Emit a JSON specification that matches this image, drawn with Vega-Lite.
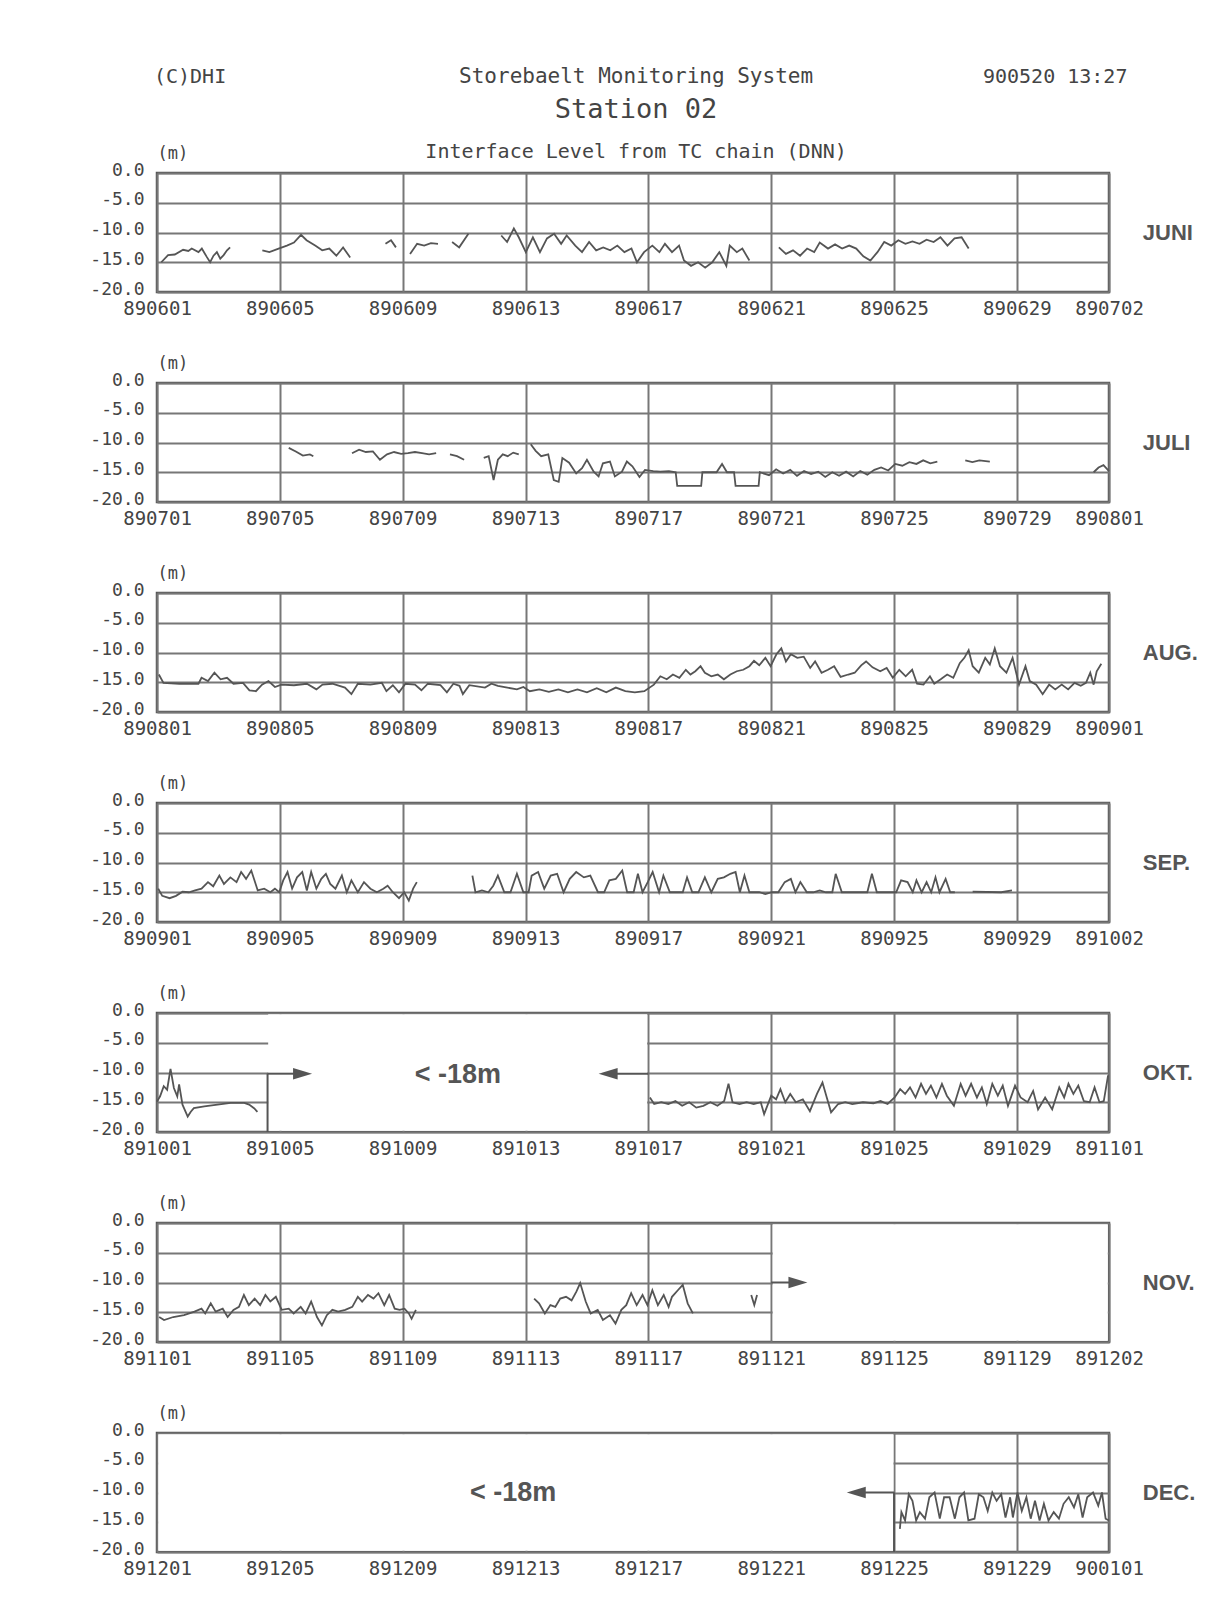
{
"$schema": "https://vega.github.io/schema/vega-lite/v6.json",
"background": "white",
"padding": {"left": 88, "top": 64, "right": 5, "bottom": 5},
"autosize": {"type": "pad"},
"spacing": 91,
"bounds": "flush",
"config": {
  "view": {"stroke": "#555", "strokeWidth": 2.5},
  "axis": {"labelFont": "DejaVu Sans Mono", "labelColor": "#444", "ticks": false, "tickSize": 0, "domain": false, "grid": true, "gridColor": "#777", "gridWidth": 2, "gridOpacity": 1},
  "axisX": {"labelFontSize": 19, "labelPadding": 7},
  "axisY": {"labelFontSize": 18, "labelPadding": 13, "labelOffset": -3, "tickCount": 10, "titleFont": "DejaVu Sans Mono", "titleFontSize": 17, "titleFontWeight": "normal", "titleColor": "#444"},
  "line": {"color": "#555", "strokeWidth": 1.8},
  "rule": {"color": "#555", "strokeWidth": 2},
  "text": {"color": "#444"}
},
"datasets": {
"jun": [
{"d":0.14,"v":-15.0,"s":1},{"d":0.36,"v":-13.8,"s":1},{"d":0.58,"v":-13.7,"s":1},{"d":0.85,"v":-12.9,"s":1},{"d":1.02,"v":-13.1,"s":1},{"d":1.13,"v":-12.7,"s":1},{"d":1.35,"v":-13.3,"s":1},{"d":1.46,"v":-12.7,"s":1},{"d":1.62,"v":-14.1,"s":1},{"d":1.73,"v":-15.0,"s":1},{"d":1.84,"v":-13.9,"s":1},{"d":1.95,"v":-13.3,"s":1},{"d":2.06,"v":-14.4,"s":1},{"d":2.17,"v":-13.8,"s":1},{"d":2.28,"v":-13.0,"s":1},{"d":2.38,"v":-12.5,"s":1},
{"d":3.43,"v":-13.0,"s":2},{"d":3.66,"v":-13.3,"s":2},{"d":3.96,"v":-12.7,"s":2},{"d":4.23,"v":-12.2,"s":2},{"d":4.46,"v":-11.7,"s":2},{"d":4.69,"v":-10.4,"s":2},{"d":4.87,"v":-11.3,"s":2},{"d":5.15,"v":-12.2,"s":2},{"d":5.38,"v":-13.0,"s":2},{"d":5.61,"v":-12.7,"s":2},{"d":5.84,"v":-13.9,"s":2},{"d":6.06,"v":-12.5,"s":2},{"d":6.29,"v":-14.2,"s":2},
{"d":7.44,"v":-11.9,"s":3},{"d":7.62,"v":-11.3,"s":3},{"d":7.78,"v":-12.5,"s":3},
{"d":8.24,"v":-13.6,"s":4},{"d":8.47,"v":-11.9,"s":4},{"d":8.7,"v":-12.2,"s":4},{"d":8.92,"v":-11.8,"s":4},{"d":9.15,"v":-11.9,"s":4},
{"d":9.61,"v":-11.6,"s":5},{"d":9.84,"v":-12.5,"s":5},{"d":10.14,"v":-10.2,"s":5},
{"d":11.21,"v":-10.5,"s":6},{"d":11.4,"v":-11.6,"s":6},{"d":11.62,"v":-9.3,"s":6},{"d":11.78,"v":-10.8,"s":6},{"d":12.01,"v":-13.3,"s":6},{"d":12.24,"v":-10.8,"s":6},{"d":12.47,"v":-13.3,"s":6},{"d":12.7,"v":-11.0,"s":6},{"d":12.93,"v":-10.2,"s":6},{"d":13.16,"v":-11.9,"s":6},{"d":13.34,"v":-10.5,"s":6},{"d":13.62,"v":-12.2,"s":6},{"d":13.84,"v":-13.3,"s":6},{"d":14.07,"v":-11.6,"s":6},{"d":14.3,"v":-13.0,"s":6},{"d":14.53,"v":-12.5,"s":6},{"d":14.76,"v":-13.0,"s":6},{"d":14.99,"v":-12.2,"s":6},{"d":15.22,"v":-13.3,"s":6},{"d":15.45,"v":-12.7,"s":6},{"d":15.63,"v":-15.0,"s":6},{"d":15.86,"v":-13.3,"s":6},{"d":16.13,"v":-12.2,"s":6},{"d":16.36,"v":-13.3,"s":6},{"d":16.54,"v":-11.9,"s":6},{"d":16.77,"v":-13.3,"s":6},{"d":17.0,"v":-12.2,"s":6},{"d":17.16,"v":-14.7,"s":6},{"d":17.39,"v":-15.6,"s":6},{"d":17.62,"v":-15.0,"s":6},{"d":17.85,"v":-15.9,"s":6},{"d":18.08,"v":-15.0,"s":6},{"d":18.31,"v":-13.3,"s":6},{"d":18.54,"v":-15.6,"s":6},{"d":18.65,"v":-12.2,"s":6},{"d":18.88,"v":-13.3,"s":6},{"d":19.06,"v":-12.7,"s":6},{"d":19.29,"v":-14.7,"s":6},
{"d":20.25,"v":-12.5,"s":7},{"d":20.48,"v":-13.6,"s":7},{"d":20.71,"v":-13.0,"s":7},{"d":20.94,"v":-13.9,"s":7},{"d":21.17,"v":-12.7,"s":7},{"d":21.4,"v":-13.3,"s":7},{"d":21.58,"v":-11.7,"s":7},{"d":21.85,"v":-12.7,"s":7},{"d":22.08,"v":-12.0,"s":7},{"d":22.31,"v":-12.7,"s":7},{"d":22.54,"v":-12.2,"s":7},{"d":22.77,"v":-12.7,"s":7},{"d":23.0,"v":-14.0,"s":7},{"d":23.23,"v":-14.7,"s":7},{"d":23.46,"v":-13.3,"s":7},{"d":23.68,"v":-11.6,"s":7},{"d":23.91,"v":-12.2,"s":7},{"d":24.14,"v":-11.3,"s":7},{"d":24.37,"v":-11.9,"s":7},{"d":24.6,"v":-11.5,"s":7},{"d":24.83,"v":-11.9,"s":7},{"d":25.06,"v":-11.2,"s":7},{"d":25.29,"v":-11.6,"s":7},{"d":25.51,"v":-10.8,"s":7},{"d":25.74,"v":-12.2,"s":7},{"d":25.97,"v":-11.0,"s":7},{"d":26.2,"v":-10.8,"s":7},{"d":26.43,"v":-12.7,"s":7}
],
"jul": [
{"d":4.29,"v":-10.9,"s":1},{"d":4.52,"v":-11.5,"s":1},{"d":4.75,"v":-12.2,"s":1},{"d":4.98,"v":-12.0,"s":1},{"d":5.09,"v":-12.3,"s":1},
{"d":6.35,"v":-11.8,"s":2},{"d":6.58,"v":-11.2,"s":2},{"d":6.8,"v":-11.6,"s":2},{"d":7.03,"v":-11.5,"s":2},{"d":7.26,"v":-12.9,"s":2},{"d":7.49,"v":-12.0,"s":2},{"d":7.72,"v":-11.6,"s":2},{"d":7.95,"v":-11.9,"s":2},{"d":8.17,"v":-11.8,"s":2},{"d":8.4,"v":-11.6,"s":2},{"d":8.63,"v":-11.8,"s":2},{"d":8.86,"v":-12.0,"s":2},{"d":9.09,"v":-11.8,"s":2},
{"d":9.54,"v":-12.0,"s":3},{"d":9.77,"v":-12.3,"s":3},{"d":10.0,"v":-12.9,"s":3},
{"d":10.64,"v":-12.6,"s":4},{"d":10.8,"v":-12.3,"s":4},{"d":10.96,"v":-16.3,"s":4},{"d":11.1,"v":-12.9,"s":4},{"d":11.26,"v":-12.0,"s":4},{"d":11.42,"v":-12.3,"s":4},{"d":11.6,"v":-11.7,"s":4},{"d":11.78,"v":-12.0,"s":4},
{"d":12.17,"v":-10.3,"s":5},{"d":12.33,"v":-11.4,"s":5},{"d":12.51,"v":-12.3,"s":5},{"d":12.74,"v":-12.0,"s":5},{"d":12.92,"v":-16.3,"s":5},{"d":13.08,"v":-16.6,"s":5},{"d":13.2,"v":-12.6,"s":5},{"d":13.42,"v":-13.4,"s":5},{"d":13.65,"v":-15.2,"s":5},{"d":13.84,"v":-14.3,"s":5},{"d":14.0,"v":-12.9,"s":5},{"d":14.22,"v":-14.9,"s":5},{"d":14.38,"v":-15.7,"s":5},{"d":14.52,"v":-13.5,"s":5},{"d":14.75,"v":-13.2,"s":5},{"d":14.91,"v":-15.7,"s":5},{"d":15.14,"v":-14.9,"s":5},{"d":15.3,"v":-13.2,"s":5},{"d":15.48,"v":-14.0,"s":5},{"d":15.71,"v":-15.8,"s":5},{"d":15.89,"v":-14.6,"s":5},{"d":16.16,"v":-14.8,"s":5},{"d":16.39,"v":-14.9,"s":5},{"d":16.67,"v":-14.8,"s":5},{"d":16.89,"v":-15.0,"s":5},{"d":16.94,"v":-17.3,"s":5},{"d":17.72,"v":-17.3,"s":5},{"d":17.76,"v":-15.0,"s":5},{"d":18.22,"v":-15.0,"s":5},{"d":18.4,"v":-13.6,"s":5},{"d":18.56,"v":-15.0,"s":5},{"d":18.79,"v":-15.0,"s":5},{"d":18.84,"v":-17.3,"s":5},{"d":19.59,"v":-17.3,"s":5},{"d":19.63,"v":-15.0,"s":5},{"d":19.93,"v":-15.5,"s":5},{"d":20.16,"v":-14.5,"s":5},{"d":20.39,"v":-15.2,"s":5},{"d":20.62,"v":-14.6,"s":5},{"d":20.84,"v":-15.6,"s":5},{"d":21.07,"v":-14.8,"s":5},{"d":21.3,"v":-15.3,"s":5},{"d":21.53,"v":-14.9,"s":5},{"d":21.76,"v":-15.8,"s":5},{"d":21.99,"v":-15.0,"s":5},{"d":22.21,"v":-15.6,"s":5},{"d":22.44,"v":-14.9,"s":5},{"d":22.67,"v":-15.7,"s":5},{"d":22.9,"v":-14.8,"s":5},{"d":23.13,"v":-15.4,"s":5},{"d":23.36,"v":-14.6,"s":5},{"d":23.58,"v":-14.2,"s":5},{"d":23.81,"v":-14.7,"s":5},{"d":24.04,"v":-13.6,"s":5},{"d":24.27,"v":-13.9,"s":5},{"d":24.5,"v":-13.3,"s":5},{"d":24.73,"v":-13.6,"s":5},{"d":24.95,"v":-13.0,"s":5},{"d":25.18,"v":-13.5,"s":5},{"d":25.41,"v":-13.2,"s":5},
{"d":26.32,"v":-13.0,"s":6},{"d":26.55,"v":-13.3,"s":6},{"d":26.78,"v":-13.0,"s":6},{"d":27.12,"v":-13.2,"s":6},
{"d":30.5,"v":-15.0,"s":7},{"d":30.66,"v":-14.2,"s":7},{"d":30.82,"v":-13.8,"s":7},{"d":31.0,"v":-14.8,"s":7}
],
"aug": [
{"d":0.06,"v":-13.7,"s":1},{"d":0.21,"v":-15.1,"s":1},{"d":0.73,"v":-15.25,"s":1},{"d":1.35,"v":-15.25,"s":1},{"d":1.45,"v":-14.25,"s":1},{"d":1.66,"v":-14.8,"s":1},{"d":1.87,"v":-13.4,"s":1},{"d":2.07,"v":-14.5,"s":1},{"d":2.28,"v":-14.25,"s":1},{"d":2.49,"v":-15.25,"s":1},{"d":2.8,"v":-15.1,"s":1},{"d":3.01,"v":-16.35,"s":1},{"d":3.22,"v":-16.5,"s":1},{"d":3.42,"v":-15.4,"s":1},{"d":3.63,"v":-14.8,"s":1},{"d":3.84,"v":-15.8,"s":1},{"d":4.05,"v":-15.4,"s":1},{"d":4.46,"v":-15.5,"s":1},{"d":4.88,"v":-15.25,"s":1},{"d":5.19,"v":-16.2,"s":1},{"d":5.39,"v":-15.4,"s":1},{"d":5.71,"v":-15.25,"s":1},{"d":6.12,"v":-15.9,"s":1},{"d":6.33,"v":-17.0,"s":1},{"d":6.54,"v":-15.25,"s":1},{"d":6.95,"v":-15.4,"s":1},{"d":7.32,"v":-15.1,"s":1},{"d":7.47,"v":-16.5,"s":1},{"d":7.68,"v":-15.5,"s":1},{"d":7.88,"v":-16.7,"s":1},{"d":8.09,"v":-15.25,"s":1},{"d":8.4,"v":-15.4,"s":1},{"d":8.61,"v":-16.35,"s":1},{"d":8.82,"v":-15.25,"s":1},{"d":9.23,"v":-15.5,"s":1},{"d":9.44,"v":-16.7,"s":1},{"d":9.65,"v":-15.25,"s":1},{"d":9.85,"v":-15.6,"s":1},{"d":9.96,"v":-17.0,"s":1},{"d":10.17,"v":-15.5,"s":1},{"d":10.68,"v":-15.9,"s":1},{"d":10.89,"v":-15.25,"s":1},{"d":11.1,"v":-15.6,"s":1},{"d":11.41,"v":-15.9,"s":1},{"d":11.72,"v":-16.2,"s":1},{"d":11.93,"v":-15.8,"s":1},{"d":12.14,"v":-16.5,"s":1},{"d":12.45,"v":-16.2,"s":1},{"d":12.76,"v":-16.6,"s":1},{"d":13.07,"v":-16.2,"s":1},{"d":13.38,"v":-16.7,"s":1},{"d":13.69,"v":-16.2,"s":1},{"d":14.0,"v":-16.7,"s":1},{"d":14.32,"v":-16.0,"s":1},{"d":14.63,"v":-16.7,"s":1},{"d":14.94,"v":-15.9,"s":1},{"d":15.25,"v":-16.5,"s":1},{"d":15.56,"v":-16.7,"s":1},{"d":15.87,"v":-16.5,"s":1},{"d":16.18,"v":-15.4,"s":1},{"d":16.39,"v":-14.0,"s":1},{"d":16.6,"v":-14.5,"s":1},{"d":16.8,"v":-13.7,"s":1},{"d":17.01,"v":-14.25,"s":1},{"d":17.22,"v":-12.9,"s":1},{"d":17.37,"v":-13.7,"s":1},{"d":17.53,"v":-13.15,"s":1},{"d":17.7,"v":-12.3,"s":1},{"d":17.84,"v":-13.4,"s":1},{"d":18.05,"v":-14.0,"s":1},{"d":18.26,"v":-13.7,"s":1},{"d":18.46,"v":-14.5,"s":1},{"d":18.67,"v":-13.7,"s":1},{"d":18.88,"v":-13.15,"s":1},{"d":19.09,"v":-12.9,"s":1},{"d":19.29,"v":-12.3,"s":1},{"d":19.44,"v":-11.4,"s":1},{"d":19.61,"v":-12.15,"s":1},{"d":19.81,"v":-10.9,"s":1},{"d":19.98,"v":-12.3,"s":1},{"d":20.17,"v":-10.3,"s":1},{"d":20.33,"v":-9.3,"s":1},{"d":20.48,"v":-11.5,"s":1},{"d":20.64,"v":-10.3,"s":1},{"d":20.85,"v":-10.9,"s":1},{"d":21.06,"v":-10.7,"s":1},{"d":21.27,"v":-12.6,"s":1},{"d":21.43,"v":-11.5,"s":1},{"d":21.64,"v":-13.4,"s":1},{"d":21.85,"v":-12.9,"s":1},{"d":22.05,"v":-12.3,"s":1},{"d":22.26,"v":-14.1,"s":1},{"d":22.51,"v":-13.7,"s":1},{"d":22.72,"v":-13.4,"s":1},{"d":22.93,"v":-12.15,"s":1},{"d":23.09,"v":-11.5,"s":1},{"d":23.3,"v":-12.5,"s":1},{"d":23.55,"v":-13.15,"s":1},{"d":23.76,"v":-12.6,"s":1},{"d":23.96,"v":-14.25,"s":1},{"d":24.17,"v":-12.9,"s":1},{"d":24.38,"v":-14.0,"s":1},{"d":24.59,"v":-12.9,"s":1},{"d":24.75,"v":-15.25,"s":1},{"d":24.96,"v":-15.4,"s":1},{"d":25.17,"v":-14.0,"s":1},{"d":25.31,"v":-15.25,"s":1},{"d":25.52,"v":-14.5,"s":1},{"d":25.73,"v":-13.7,"s":1},{"d":25.93,"v":-14.25,"s":1},{"d":26.14,"v":-11.8,"s":1},{"d":26.29,"v":-10.9,"s":1},{"d":26.43,"v":-9.6,"s":1},{"d":26.56,"v":-12.3,"s":1},{"d":26.76,"v":-13.4,"s":1},{"d":26.97,"v":-10.9,"s":1},{"d":27.12,"v":-12.0,"s":1},{"d":27.28,"v":-9.3,"s":1},{"d":27.45,"v":-12.3,"s":1},{"d":27.66,"v":-13.4,"s":1},{"d":27.86,"v":-10.9,"s":1},{"d":28.07,"v":-15.4,"s":1},{"d":28.28,"v":-12.3,"s":1},{"d":28.42,"v":-14.8,"s":1},{"d":28.63,"v":-15.4,"s":1},{"d":28.84,"v":-17.0,"s":1},{"d":29.05,"v":-15.4,"s":1},{"d":29.25,"v":-16.2,"s":1},{"d":29.46,"v":-15.4,"s":1},{"d":29.67,"v":-16.2,"s":1},{"d":29.88,"v":-15.1,"s":1},{"d":30.08,"v":-15.6,"s":1},{"d":30.25,"v":-15.1,"s":1},{"d":30.39,"v":-13.4,"s":1},{"d":30.5,"v":-15.4,"s":1},{"d":30.6,"v":-13.15,"s":1},{"d":30.75,"v":-11.9,"s":1}
],
"sep": [
{"d":0.04,"v":-14.4,"s":1},{"d":0.17,"v":-15.6,"s":1},{"d":0.41,"v":-16.0,"s":1},{"d":0.62,"v":-15.6,"s":1},{"d":0.83,"v":-14.9,"s":1},{"d":1.04,"v":-15.0,"s":1},{"d":1.24,"v":-14.7,"s":1},{"d":1.45,"v":-14.4,"s":1},{"d":1.66,"v":-13.3,"s":1},{"d":1.83,"v":-14.0,"s":1},{"d":2.03,"v":-12.2,"s":1},{"d":2.18,"v":-13.6,"s":1},{"d":2.39,"v":-12.5,"s":1},{"d":2.59,"v":-13.3,"s":1},{"d":2.74,"v":-11.6,"s":1},{"d":2.9,"v":-12.75,"s":1},{"d":3.07,"v":-11.35,"s":1},{"d":3.28,"v":-14.7,"s":1},{"d":3.49,"v":-14.4,"s":1},{"d":3.69,"v":-15.0,"s":1},{"d":3.84,"v":-14.4,"s":1},{"d":3.98,"v":-15.0,"s":1},{"d":4.11,"v":-13.0,"s":1},{"d":4.25,"v":-11.6,"s":1},{"d":4.4,"v":-14.4,"s":1},{"d":4.56,"v":-12.5,"s":1},{"d":4.73,"v":-11.6,"s":1},{"d":4.88,"v":-14.7,"s":1},{"d":5.02,"v":-11.6,"s":1},{"d":5.19,"v":-14.4,"s":1},{"d":5.35,"v":-12.75,"s":1},{"d":5.5,"v":-11.9,"s":1},{"d":5.64,"v":-13.6,"s":1},{"d":5.81,"v":-14.4,"s":1},{"d":6.02,"v":-12.2,"s":1},{"d":6.18,"v":-15.0,"s":1},{"d":6.33,"v":-13.0,"s":1},{"d":6.54,"v":-15.0,"s":1},{"d":6.74,"v":-13.3,"s":1},{"d":6.95,"v":-14.4,"s":1},{"d":7.16,"v":-15.0,"s":1},{"d":7.37,"v":-14.4,"s":1},{"d":7.51,"v":-13.9,"s":1},{"d":7.68,"v":-15.0,"s":1},{"d":7.88,"v":-16.0,"s":1},{"d":8.05,"v":-15.0,"s":1},{"d":8.2,"v":-16.4,"s":1},{"d":8.34,"v":-14.4,"s":1},{"d":8.46,"v":-13.3,"s":1},
{"d":10.27,"v":-12.2,"s":2},{"d":10.37,"v":-15.0,"s":2},{"d":10.58,"v":-14.7,"s":2},{"d":10.79,"v":-15.0,"s":2},{"d":10.95,"v":-13.9,"s":2},{"d":11.1,"v":-12.2,"s":2},{"d":11.31,"v":-15.0,"s":2},{"d":11.51,"v":-15.0,"s":2},{"d":11.72,"v":-11.9,"s":2},{"d":11.93,"v":-15.0,"s":2},{"d":12.1,"v":-15.0,"s":2},{"d":12.2,"v":-12.2,"s":2},{"d":12.41,"v":-11.6,"s":2},{"d":12.61,"v":-14.4,"s":2},{"d":12.82,"v":-12.2,"s":2},{"d":13.03,"v":-11.9,"s":2},{"d":13.24,"v":-15.0,"s":2},{"d":13.44,"v":-12.75,"s":2},{"d":13.65,"v":-11.6,"s":2},{"d":13.9,"v":-12.5,"s":2},{"d":14.11,"v":-12.2,"s":2},{"d":14.36,"v":-15.0,"s":2},{"d":14.56,"v":-15.0,"s":2},{"d":14.73,"v":-13.0,"s":2},{"d":14.94,"v":-12.75,"s":2},{"d":15.15,"v":-11.35,"s":2},{"d":15.31,"v":-15.0,"s":2},{"d":15.52,"v":-15.0,"s":2},{"d":15.66,"v":-11.9,"s":2},{"d":15.81,"v":-15.0,"s":2},{"d":15.98,"v":-13.3,"s":2},{"d":16.14,"v":-11.6,"s":2},{"d":16.35,"v":-15.0,"s":2},{"d":16.49,"v":-12.2,"s":2},{"d":16.7,"v":-15.0,"s":2},{"d":16.91,"v":-15.0,"s":2},{"d":17.12,"v":-15.0,"s":2},{"d":17.26,"v":-12.5,"s":2},{"d":17.43,"v":-15.0,"s":2},{"d":17.63,"v":-15.0,"s":2},{"d":17.84,"v":-12.5,"s":2},{"d":18.05,"v":-15.0,"s":2},{"d":18.26,"v":-12.75,"s":2},{"d":18.46,"v":-12.5,"s":2},{"d":18.67,"v":-11.9,"s":2},{"d":18.84,"v":-11.6,"s":2},{"d":18.98,"v":-15.0,"s":2},{"d":19.13,"v":-12.2,"s":2},{"d":19.29,"v":-15.0,"s":2},{"d":19.61,"v":-15.0,"s":2},{"d":19.81,"v":-15.3,"s":2},{"d":20.02,"v":-15.0,"s":2},{"d":20.23,"v":-15.0,"s":2},{"d":20.44,"v":-13.3,"s":2},{"d":20.64,"v":-12.75,"s":2},{"d":20.79,"v":-15.0,"s":2},{"d":20.95,"v":-13.3,"s":2},{"d":21.16,"v":-15.0,"s":2},{"d":21.37,"v":-15.0,"s":2},{"d":21.58,"v":-14.7,"s":2},{"d":21.78,"v":-15.0,"s":2},{"d":21.99,"v":-15.0,"s":2},{"d":22.1,"v":-11.9,"s":2},{"d":22.3,"v":-15.0,"s":2},{"d":22.61,"v":-15.0,"s":2},{"d":22.93,"v":-15.0,"s":2},{"d":23.13,"v":-15.0,"s":2},{"d":23.28,"v":-11.9,"s":2},{"d":23.44,"v":-15.0,"s":2},{"d":23.86,"v":-15.0,"s":2},{"d":24.07,"v":-15.0,"s":2},{"d":24.23,"v":-13.0,"s":2},{"d":24.44,"v":-13.3,"s":2},{"d":24.61,"v":-15.0,"s":2},{"d":24.73,"v":-13.0,"s":2},{"d":24.9,"v":-15.0,"s":2},{"d":25.06,"v":-13.3,"s":2},{"d":25.21,"v":-15.0,"s":2},{"d":25.35,"v":-12.5,"s":2},{"d":25.48,"v":-15.0,"s":2},{"d":25.68,"v":-12.75,"s":2},{"d":25.83,"v":-15.0,"s":2},{"d":25.98,"v":-15.0,"s":2},
{"d":26.56,"v":-14.9,"s":3},{"d":27.49,"v":-15.0,"s":3},{"d":27.84,"v":-14.7,"s":3}
],
"oct": [
{"d":0.0,"v":-14.9,"s":1},{"d":0.1,"v":-14.0,"s":1},{"d":0.22,"v":-12.3,"s":1},{"d":0.33,"v":-12.9,"s":1},{"d":0.44,"v":-9.4,"s":1},{"d":0.55,"v":-12.6,"s":1},{"d":0.66,"v":-14.0,"s":1},{"d":0.72,"v":-12.0,"s":1},{"d":0.83,"v":-15.4,"s":1},{"d":1.0,"v":-17.4,"s":1},{"d":1.1,"v":-16.6,"s":1},{"d":1.2,"v":-16.0,"s":1},{"d":1.54,"v":-15.7,"s":1},{"d":1.97,"v":-15.4,"s":1},{"d":2.4,"v":-15.1,"s":1},{"d":2.84,"v":-15.1,"s":1},{"d":3.0,"v":-15.4,"s":1},{"d":3.16,"v":-16.0,"s":1},{"d":3.27,"v":-16.6,"s":1},
{"d":16.05,"v":-14.2,"s":2},{"d":16.19,"v":-15.3,"s":2},{"d":16.42,"v":-15.0,"s":2},{"d":16.65,"v":-15.3,"s":2},{"d":16.88,"v":-14.8,"s":2},{"d":17.1,"v":-15.6,"s":2},{"d":17.33,"v":-15.0,"s":2},{"d":17.56,"v":-15.9,"s":2},{"d":17.79,"v":-15.6,"s":2},{"d":18.02,"v":-15.0,"s":2},{"d":18.25,"v":-15.6,"s":2},{"d":18.47,"v":-14.8,"s":2},{"d":18.61,"v":-11.9,"s":2},{"d":18.74,"v":-15.0,"s":2},{"d":18.97,"v":-15.3,"s":2},{"d":19.2,"v":-15.0,"s":2},{"d":19.43,"v":-15.3,"s":2},{"d":19.66,"v":-15.0,"s":2},{"d":19.77,"v":-17.0,"s":2},{"d":20.0,"v":-13.9,"s":2},{"d":20.16,"v":-14.5,"s":2},{"d":20.3,"v":-12.8,"s":2},{"d":20.46,"v":-15.0,"s":2},{"d":20.62,"v":-13.6,"s":2},{"d":20.8,"v":-15.0,"s":2},{"d":21.03,"v":-14.5,"s":2},{"d":21.26,"v":-16.5,"s":2},{"d":21.49,"v":-13.6,"s":2},{"d":21.67,"v":-11.7,"s":2},{"d":21.81,"v":-14.2,"s":2},{"d":21.95,"v":-16.7,"s":2},{"d":22.18,"v":-15.3,"s":2},{"d":22.41,"v":-15.0,"s":2},{"d":22.64,"v":-15.3,"s":2},{"d":22.99,"v":-15.0,"s":2},{"d":23.33,"v":-15.2,"s":2},{"d":23.56,"v":-14.8,"s":2},{"d":23.79,"v":-15.3,"s":2},{"d":24.02,"v":-14.2,"s":2},{"d":24.2,"v":-12.8,"s":2},{"d":24.36,"v":-13.6,"s":2},{"d":24.52,"v":-12.5,"s":2},{"d":24.7,"v":-14.2,"s":2},{"d":24.88,"v":-11.9,"s":2},{"d":25.04,"v":-13.6,"s":2},{"d":25.2,"v":-12.2,"s":2},{"d":25.38,"v":-14.2,"s":2},{"d":25.56,"v":-11.9,"s":2},{"d":25.72,"v":-13.9,"s":2},{"d":25.95,"v":-15.6,"s":2},{"d":26.17,"v":-11.9,"s":2},{"d":26.33,"v":-13.9,"s":2},{"d":26.51,"v":-11.9,"s":2},{"d":26.7,"v":-14.2,"s":2},{"d":26.86,"v":-12.5,"s":2},{"d":27.02,"v":-15.3,"s":2},{"d":27.2,"v":-11.9,"s":2},{"d":27.38,"v":-13.9,"s":2},{"d":27.54,"v":-12.2,"s":2},{"d":27.71,"v":-15.6,"s":2},{"d":27.94,"v":-12.2,"s":2},{"d":28.12,"v":-14.2,"s":2},{"d":28.35,"v":-15.0,"s":2},{"d":28.53,"v":-13.1,"s":2},{"d":28.69,"v":-16.2,"s":2},{"d":28.92,"v":-14.2,"s":2},{"d":29.15,"v":-16.2,"s":2},{"d":29.38,"v":-12.5,"s":2},{"d":29.54,"v":-14.2,"s":2},{"d":29.68,"v":-11.9,"s":2},{"d":29.84,"v":-13.6,"s":2},{"d":30.0,"v":-12.2,"s":2},{"d":30.18,"v":-14.8,"s":2},{"d":30.37,"v":-15.0,"s":2},{"d":30.53,"v":-12.5,"s":2},{"d":30.69,"v":-15.0,"s":2},{"d":30.83,"v":-14.8,"s":2},{"d":30.97,"v":-10.5,"s":2}
],
"nov": [
{"d":0.07,"v":-15.8,"s":1},{"d":0.23,"v":-16.3,"s":1},{"d":0.53,"v":-15.8,"s":1},{"d":0.88,"v":-15.5,"s":1},{"d":1.22,"v":-14.9,"s":1},{"d":1.45,"v":-14.4,"s":1},{"d":1.57,"v":-15.2,"s":1},{"d":1.75,"v":-13.5,"s":1},{"d":1.91,"v":-14.9,"s":1},{"d":2.14,"v":-14.4,"s":1},{"d":2.3,"v":-15.8,"s":1},{"d":2.49,"v":-14.6,"s":1},{"d":2.67,"v":-14.1,"s":1},{"d":2.83,"v":-12.1,"s":1},{"d":2.99,"v":-13.8,"s":1},{"d":3.18,"v":-12.7,"s":1},{"d":3.36,"v":-13.8,"s":1},{"d":3.53,"v":-12.1,"s":1},{"d":3.69,"v":-13.2,"s":1},{"d":3.87,"v":-12.4,"s":1},{"d":4.06,"v":-14.6,"s":1},{"d":4.29,"v":-14.4,"s":1},{"d":4.45,"v":-15.2,"s":1},{"d":4.68,"v":-14.1,"s":1},{"d":4.84,"v":-15.2,"s":1},{"d":5.02,"v":-13.2,"s":1},{"d":5.21,"v":-15.8,"s":1},{"d":5.37,"v":-17.2,"s":1},{"d":5.53,"v":-15.5,"s":1},{"d":5.71,"v":-14.6,"s":1},{"d":5.9,"v":-14.9,"s":1},{"d":6.13,"v":-14.6,"s":1},{"d":6.36,"v":-14.1,"s":1},{"d":6.54,"v":-12.4,"s":1},{"d":6.68,"v":-13.2,"s":1},{"d":6.87,"v":-12.1,"s":1},{"d":7.05,"v":-12.7,"s":1},{"d":7.21,"v":-11.8,"s":1},{"d":7.4,"v":-13.8,"s":1},{"d":7.56,"v":-12.1,"s":1},{"d":7.74,"v":-14.4,"s":1},{"d":7.9,"v":-14.6,"s":1},{"d":8.06,"v":-14.4,"s":1},{"d":8.2,"v":-15.2,"s":1},{"d":8.29,"v":-16.1,"s":1},{"d":8.43,"v":-14.6,"s":1},
{"d":12.28,"v":-12.7,"s":2},{"d":12.44,"v":-13.5,"s":2},{"d":12.63,"v":-15.2,"s":2},{"d":12.81,"v":-13.8,"s":2},{"d":12.97,"v":-14.1,"s":2},{"d":13.13,"v":-12.7,"s":2},{"d":13.32,"v":-12.4,"s":2},{"d":13.5,"v":-13.0,"s":2},{"d":13.66,"v":-11.5,"s":2},{"d":13.78,"v":-10.1,"s":2},{"d":13.96,"v":-13.2,"s":2},{"d":14.12,"v":-15.2,"s":2},{"d":14.35,"v":-14.6,"s":2},{"d":14.52,"v":-16.3,"s":2},{"d":14.75,"v":-15.5,"s":2},{"d":14.93,"v":-16.9,"s":2},{"d":15.12,"v":-14.6,"s":2},{"d":15.28,"v":-13.8,"s":2},{"d":15.44,"v":-11.8,"s":2},{"d":15.62,"v":-13.8,"s":2},{"d":15.81,"v":-12.1,"s":2},{"d":15.97,"v":-13.8,"s":2},{"d":16.13,"v":-11.3,"s":2},{"d":16.31,"v":-13.8,"s":2},{"d":16.5,"v":-12.1,"s":2},{"d":16.66,"v":-14.1,"s":2},{"d":16.77,"v":-12.4,"s":2},{"d":16.96,"v":-11.3,"s":2},{"d":17.12,"v":-10.4,"s":2},{"d":17.28,"v":-13.5,"s":2},{"d":17.45,"v":-15.2,"s":2},
{"d":19.35,"v":-12.1,"s":3},{"d":19.45,"v":-13.8,"s":3},{"d":19.54,"v":-12.1,"s":3}
],
"dec": [
{"d":24.19,"v":-16.1,"s":1},{"d":24.24,"v":-13.3,"s":1},{"d":24.36,"v":-14.7,"s":1},{"d":24.48,"v":-10.3,"s":1},{"d":24.6,"v":-11.4,"s":1},{"d":24.72,"v":-14.7,"s":1},{"d":24.84,"v":-13.3,"s":1},{"d":25.01,"v":-14.4,"s":1},{"d":25.15,"v":-10.8,"s":1},{"d":25.32,"v":-10.0,"s":1},{"d":25.49,"v":-14.4,"s":1},{"d":25.63,"v":-10.8,"s":1},{"d":25.81,"v":-10.8,"s":1},{"d":25.98,"v":-14.4,"s":1},{"d":26.13,"v":-10.8,"s":1},{"d":26.28,"v":-10.0,"s":1},{"d":26.42,"v":-14.7,"s":1},{"d":26.62,"v":-14.4,"s":1},{"d":26.76,"v":-10.3,"s":1},{"d":26.91,"v":-10.8,"s":1},{"d":27.05,"v":-13.1,"s":1},{"d":27.2,"v":-10.0,"s":1},{"d":27.34,"v":-11.4,"s":1},{"d":27.49,"v":-10.3,"s":1},{"d":27.63,"v":-14.2,"s":1},{"d":27.78,"v":-10.8,"s":1},{"d":27.87,"v":-14.2,"s":1},{"d":28.02,"v":-10.0,"s":1},{"d":28.16,"v":-13.1,"s":1},{"d":28.31,"v":-10.8,"s":1},{"d":28.45,"v":-14.4,"s":1},{"d":28.59,"v":-11.4,"s":1},{"d":28.74,"v":-14.7,"s":1},{"d":28.88,"v":-11.9,"s":1},{"d":29.03,"v":-14.7,"s":1},{"d":29.2,"v":-13.3,"s":1},{"d":29.37,"v":-14.4,"s":1},{"d":29.52,"v":-11.9,"s":1},{"d":29.69,"v":-10.8,"s":1},{"d":29.86,"v":-12.5,"s":1},{"d":30.0,"v":-10.3,"s":1},{"d":30.14,"v":-14.2,"s":1},{"d":30.29,"v":-10.8,"s":1},{"d":30.48,"v":-10.0,"s":1},{"d":30.65,"v":-12.2,"s":1},{"d":30.77,"v":-10.0,"s":1},{"d":30.89,"v":-14.4,"s":1},{"d":31.0,"v":-14.7,"s":1}
]
},
"vconcat": [
{
 "width": 952, "height": 119,
 "layer": [
  {"data": {"name": "jun"}, "mark": {"type": "line"},
   "encoding": {
    "x": {"field": "d", "type": "quantitative", "scale": {"domain": [0, 31], "nice": false, "zero": false},
      "axis": {"title": null, "values": [0,4,8,12,16,20,24,28,31], "labelOverlap": false, "labelFlush": false, "labelBound": false,
        "labelExpr": "datum.value == 31 ? '890702' : ['890601','890605','890609','890613','890617','890621','890625','890629'][datum.value/4]"}},
    "y": {"field": "v", "type": "quantitative", "scale": {"domain": [-20, 0], "nice": false, "zero": false},
      "axis": {"values": [0,-5,-10,-15,-20], "tickCount": 10, "labelOverlap": false, "labelExpr": "datum.value == 0 ? '0.0' : '-' + format(-datum.value, '.1f')",
        "title": "(m)", "titleAngle": 0, "titleAlign": "left", "titleBaseline": "middle", "titleX": 0, "titleY": -20}},
    "detail": {"field": "s", "type": "nominal"}}},
  {"data": {"values": [{}]}, "mark": {"type": "text", "text": "JUNI", "align": "left", "font": "Liberation Sans", "fontSize": 22, "fontWeight": "bold", "color": "#555"},
   "encoding": {"x": {"datum": 32.1, "type": "quantitative"}, "y": {"datum": -10, "type": "quantitative"}}},
  {"data": {"values": [{}]}, "mark": {"type": "text", "text": "(C)DHI", "align": "left", "font": "DejaVu Sans Mono", "fontSize": 20},
   "encoding": {"x": {"datum": -0.1, "type": "quantitative"}, "y": {"datum": 16.1, "type": "quantitative"}}},
  {"data": {"values": [{}]}, "mark": {"type": "text", "text": "Storebaelt Monitoring System", "align": "center", "font": "DejaVu Sans Mono", "fontSize": 21},
   "encoding": {"x": {"datum": 15.6, "type": "quantitative"}, "y": {"datum": 16.1, "type": "quantitative"}}},
  {"data": {"values": [{}]}, "mark": {"type": "text", "text": "900520 13:27", "align": "right", "font": "DejaVu Sans Mono", "fontSize": 20},
   "encoding": {"x": {"datum": 31.6, "type": "quantitative"}, "y": {"datum": 16.1, "type": "quantitative"}}},
  {"data": {"values": [{}]}, "mark": {"type": "text", "text": "Station 02", "align": "center", "font": "DejaVu Sans Mono", "fontSize": 27},
   "encoding": {"x": {"datum": 15.6, "type": "quantitative"}, "y": {"datum": 10.6, "type": "quantitative"}}},
  {"data": {"values": [{}]}, "mark": {"type": "text", "text": "Interface Level from TC chain (DNN)", "align": "center", "font": "DejaVu Sans Mono", "fontSize": 20},
   "encoding": {"x": {"datum": 15.6, "type": "quantitative"}, "y": {"datum": 3.6, "type": "quantitative"}}}
 ]
},
{
 "width": 952, "height": 119,
 "layer": [
  {"data": {"name": "jul"}, "mark": {"type": "line"},
   "encoding": {
    "x": {"field": "d", "type": "quantitative", "scale": {"domain": [0, 31], "nice": false, "zero": false},
      "axis": {"title": null, "values": [0,4,8,12,16,20,24,28,31], "labelOverlap": false, "labelFlush": false, "labelBound": false,
        "labelExpr": "datum.value == 31 ? '890801' : ['890701','890705','890709','890713','890717','890721','890725','890729'][datum.value/4]"}},
    "y": {"field": "v", "type": "quantitative", "scale": {"domain": [-20, 0], "nice": false, "zero": false},
      "axis": {"values": [0,-5,-10,-15,-20], "tickCount": 10, "labelOverlap": false, "labelExpr": "datum.value == 0 ? '0.0' : '-' + format(-datum.value, '.1f')",
        "title": "(m)", "titleAngle": 0, "titleAlign": "left", "titleBaseline": "middle", "titleX": 0, "titleY": -20}},
    "detail": {"field": "s", "type": "nominal"}}},
  {"data": {"values": [{}]}, "mark": {"type": "text", "text": "JULI", "align": "left", "font": "Liberation Sans", "fontSize": 22, "fontWeight": "bold", "color": "#555"},
   "encoding": {"x": {"datum": 32.1, "type": "quantitative"}, "y": {"datum": -10, "type": "quantitative"}}}
 ]
},
{
 "width": 952, "height": 119,
 "layer": [
  {"data": {"name": "aug"}, "mark": {"type": "line"},
   "encoding": {
    "x": {"field": "d", "type": "quantitative", "scale": {"domain": [0, 31], "nice": false, "zero": false},
      "axis": {"title": null, "values": [0,4,8,12,16,20,24,28,31], "labelOverlap": false, "labelFlush": false, "labelBound": false,
        "labelExpr": "datum.value == 31 ? '890901' : ['890801','890805','890809','890813','890817','890821','890825','890829'][datum.value/4]"}},
    "y": {"field": "v", "type": "quantitative", "scale": {"domain": [-20, 0], "nice": false, "zero": false},
      "axis": {"values": [0,-5,-10,-15,-20], "tickCount": 10, "labelOverlap": false, "labelExpr": "datum.value == 0 ? '0.0' : '-' + format(-datum.value, '.1f')",
        "title": "(m)", "titleAngle": 0, "titleAlign": "left", "titleBaseline": "middle", "titleX": 0, "titleY": -20}},
    "detail": {"field": "s", "type": "nominal"}}},
  {"data": {"values": [{}]}, "mark": {"type": "text", "text": "AUG.", "align": "left", "font": "Liberation Sans", "fontSize": 22, "fontWeight": "bold", "color": "#555"},
   "encoding": {"x": {"datum": 32.1, "type": "quantitative"}, "y": {"datum": -10, "type": "quantitative"}}}
 ]
},
{
 "width": 952, "height": 119,
 "layer": [
  {"data": {"name": "sep"}, "mark": {"type": "line"},
   "encoding": {
    "x": {"field": "d", "type": "quantitative", "scale": {"domain": [0, 31], "nice": false, "zero": false},
      "axis": {"title": null, "values": [0,4,8,12,16,20,24,28,31], "labelOverlap": false, "labelFlush": false, "labelBound": false,
        "labelExpr": "datum.value == 31 ? '891002' : ['890901','890905','890909','890913','890917','890921','890925','890929'][datum.value/4]"}},
    "y": {"field": "v", "type": "quantitative", "scale": {"domain": [-20, 0], "nice": false, "zero": false},
      "axis": {"values": [0,-5,-10,-15,-20], "tickCount": 10, "labelOverlap": false, "labelExpr": "datum.value == 0 ? '0.0' : '-' + format(-datum.value, '.1f')",
        "title": "(m)", "titleAngle": 0, "titleAlign": "left", "titleBaseline": "middle", "titleX": 0, "titleY": -20}},
    "detail": {"field": "s", "type": "nominal"}}},
  {"data": {"values": [{}]}, "mark": {"type": "text", "text": "SEP.", "align": "left", "font": "Liberation Sans", "fontSize": 22, "fontWeight": "bold", "color": "#555"},
   "encoding": {"x": {"datum": 32.1, "type": "quantitative"}, "y": {"datum": -10, "type": "quantitative"}}}
 ]
},
{
 "width": 952, "height": 119,
 "layer": [
  {"data": {"values": [{}]}, "mark": {"type": "rect", "fill": "white"},
   "encoding": {"x": {"datum": 3.62, "type": "quantitative", "scale": {"domain": [0, 31], "nice": false, "zero": false}}, "x2": {"datum": 15.96}, "y": {"datum": -0.22, "type": "quantitative", "scale": {"domain": [-20, 0], "nice": false, "zero": false}}, "y2": {"datum": -19.78}}},
  {"data": {"name": "oct"}, "mark": {"type": "line"},
   "encoding": {
    "x": {"field": "d", "type": "quantitative", "scale": {"domain": [0, 31], "nice": false, "zero": false},
      "axis": {"title": null, "values": [0,4,8,12,16,20,24,28,31], "labelOverlap": false, "labelFlush": false, "labelBound": false,
        "labelExpr": "datum.value == 31 ? '891101' : ['891001','891005','891009','891013','891017','891021','891025','891029'][datum.value/4]"}},
    "y": {"field": "v", "type": "quantitative", "scale": {"domain": [-20, 0], "nice": false, "zero": false},
      "axis": {"values": [0,-5,-10,-15,-20], "tickCount": 10, "labelOverlap": false, "labelExpr": "datum.value == 0 ? '0.0' : '-' + format(-datum.value, '.1f')",
        "title": "(m)", "titleAngle": 0, "titleAlign": "left", "titleBaseline": "middle", "titleX": 0, "titleY": -20}},
    "detail": {"field": "s", "type": "nominal"}}},
  {"data": {"values": [{}]}, "mark": {"type": "rule"},
   "encoding": {"x": {"datum": 3.6, "type": "quantitative"}, "y": {"datum": -20, "type": "quantitative"}, "y2": {"datum": -10.2}}},
  {"data": {"values": [{}]}, "mark": {"type": "rule"},
   "encoding": {"x": {"datum": 3.6, "type": "quantitative"}, "x2": {"datum": 4.6}, "y": {"datum": -10.2, "type": "quantitative"}}},
  {"data": {"values": [{}]}, "mark": {"type": "point", "shape": "M-1,-0.6L1,0L-1,0.6Z", "filled": true, "size": 360, "color": "#555", "opacity": 1},
   "encoding": {"x": {"datum": 4.74, "type": "quantitative"}, "y": {"datum": -10.2, "type": "quantitative"}}},
  {"data": {"values": [{}]}, "mark": {"type": "rule"},
   "encoding": {"x": {"datum": 14.7, "type": "quantitative"}, "x2": {"datum": 16}, "y": {"datum": -10.2, "type": "quantitative"}}},
  {"data": {"values": [{}]}, "mark": {"type": "point", "shape": "M1,-0.6L-1,0L1,0.6Z", "filled": true, "size": 360, "color": "#555", "opacity": 1},
   "encoding": {"x": {"datum": 14.69, "type": "quantitative"}, "y": {"datum": -10.2, "type": "quantitative"}}},
  {"data": {"values": [{}]}, "mark": {"type": "text", "text": "< -18m", "align": "center", "font": "Liberation Sans", "fontSize": 27, "fontWeight": "bold", "color": "#555"},
   "encoding": {"x": {"datum": 9.8, "type": "quantitative"}, "y": {"datum": -10.5, "type": "quantitative"}}},
  {"data": {"values": [{}]}, "mark": {"type": "text", "text": "OKT.", "align": "left", "font": "Liberation Sans", "fontSize": 22, "fontWeight": "bold", "color": "#555"},
   "encoding": {"x": {"datum": 32.1, "type": "quantitative"}, "y": {"datum": -10, "type": "quantitative"}}}
 ]
},
{
 "width": 952, "height": 119,
 "layer": [
  {"data": {"values": [{}]}, "mark": {"type": "rect", "fill": "white"},
   "encoding": {"x": {"datum": 20.05, "type": "quantitative", "scale": {"domain": [0, 31], "nice": false, "zero": false}}, "x2": {"datum": 30.96}, "y": {"datum": -0.22, "type": "quantitative", "scale": {"domain": [-20, 0], "nice": false, "zero": false}}, "y2": {"datum": -19.78}}},
  {"data": {"name": "nov"}, "mark": {"type": "line"},
   "encoding": {
    "x": {"field": "d", "type": "quantitative", "scale": {"domain": [0, 31], "nice": false, "zero": false},
      "axis": {"title": null, "values": [0,4,8,12,16,20,24,28,31], "labelOverlap": false, "labelFlush": false, "labelBound": false,
        "labelExpr": "datum.value == 31 ? '891202' : ['891101','891105','891109','891113','891117','891121','891125','891129'][datum.value/4]"}},
    "y": {"field": "v", "type": "quantitative", "scale": {"domain": [-20, 0], "nice": false, "zero": false},
      "axis": {"values": [0,-5,-10,-15,-20], "tickCount": 10, "labelOverlap": false, "labelExpr": "datum.value == 0 ? '0.0' : '-' + format(-datum.value, '.1f')",
        "title": "(m)", "titleAngle": 0, "titleAlign": "left", "titleBaseline": "middle", "titleX": 0, "titleY": -20}},
    "detail": {"field": "s", "type": "nominal"}}},
  {"data": {"values": [{}]}, "mark": {"type": "rule"},
   "encoding": {"x": {"datum": 20, "type": "quantitative"}, "x2": {"datum": 20.7}, "y": {"datum": -10, "type": "quantitative"}}},
  {"data": {"values": [{}]}, "mark": {"type": "point", "shape": "M-1,-0.6L1,0L-1,0.6Z", "filled": true, "size": 360, "color": "#555", "opacity": 1},
   "encoding": {"x": {"datum": 20.87, "type": "quantitative"}, "y": {"datum": -10, "type": "quantitative"}}},
  {"data": {"values": [{}]}, "mark": {"type": "text", "text": "NOV.", "align": "left", "font": "Liberation Sans", "fontSize": 22, "fontWeight": "bold", "color": "#555"},
   "encoding": {"x": {"datum": 32.1, "type": "quantitative"}, "y": {"datum": -10, "type": "quantitative"}}}
 ]
},
{
 "width": 952, "height": 119,
 "layer": [
  {"data": {"values": [{}]}, "mark": {"type": "rect", "fill": "white"},
   "encoding": {"x": {"datum": 0.04, "type": "quantitative", "scale": {"domain": [0, 31], "nice": false, "zero": false}}, "x2": {"datum": 23.98}, "y": {"datum": -0.22, "type": "quantitative", "scale": {"domain": [-20, 0], "nice": false, "zero": false}}, "y2": {"datum": -19.78}}},
  {"data": {"name": "dec"}, "mark": {"type": "line"},
   "encoding": {
    "x": {"field": "d", "type": "quantitative", "scale": {"domain": [0, 31], "nice": false, "zero": false},
      "axis": {"title": null, "values": [0,4,8,12,16,20,24,28,31], "labelOverlap": false, "labelFlush": false, "labelBound": false,
        "labelExpr": "datum.value == 31 ? '900101' : ['891201','891205','891209','891213','891217','891221','891225','891229'][datum.value/4]"}},
    "y": {"field": "v", "type": "quantitative", "scale": {"domain": [-20, 0], "nice": false, "zero": false},
      "axis": {"values": [0,-5,-10,-15,-20], "tickCount": 10, "labelOverlap": false, "labelExpr": "datum.value == 0 ? '0.0' : '-' + format(-datum.value, '.1f')",
        "title": "(m)", "titleAngle": 0, "titleAlign": "left", "titleBaseline": "middle", "titleX": 0, "titleY": -20}},
    "detail": {"field": "s", "type": "nominal"}}},
  {"data": {"values": [{}]}, "mark": {"type": "rule"},
   "encoding": {"x": {"datum": 24, "type": "quantitative"}, "y": {"datum": -20, "type": "quantitative"}, "y2": {"datum": -10}}},
  {"data": {"values": [{}]}, "mark": {"type": "rule"},
   "encoding": {"x": {"datum": 22.8, "type": "quantitative"}, "x2": {"datum": 24}, "y": {"datum": -10, "type": "quantitative"}}},
  {"data": {"values": [{}]}, "mark": {"type": "point", "shape": "M1,-0.6L-1,0L1,0.6Z", "filled": true, "size": 360, "color": "#555", "opacity": 1},
   "encoding": {"x": {"datum": 22.77, "type": "quantitative"}, "y": {"datum": -10, "type": "quantitative"}}},
  {"data": {"values": [{}]}, "mark": {"type": "text", "text": "< -18m", "align": "center", "font": "Liberation Sans", "fontSize": 27, "fontWeight": "bold", "color": "#555"},
   "encoding": {"x": {"datum": 11.6, "type": "quantitative"}, "y": {"datum": -10, "type": "quantitative"}}},
  {"data": {"values": [{}]}, "mark": {"type": "text", "text": "DEC.", "align": "left", "font": "Liberation Sans", "fontSize": 22, "fontWeight": "bold", "color": "#555"},
   "encoding": {"x": {"datum": 32.1, "type": "quantitative"}, "y": {"datum": -10, "type": "quantitative"}}}
 ]
}
]
}
